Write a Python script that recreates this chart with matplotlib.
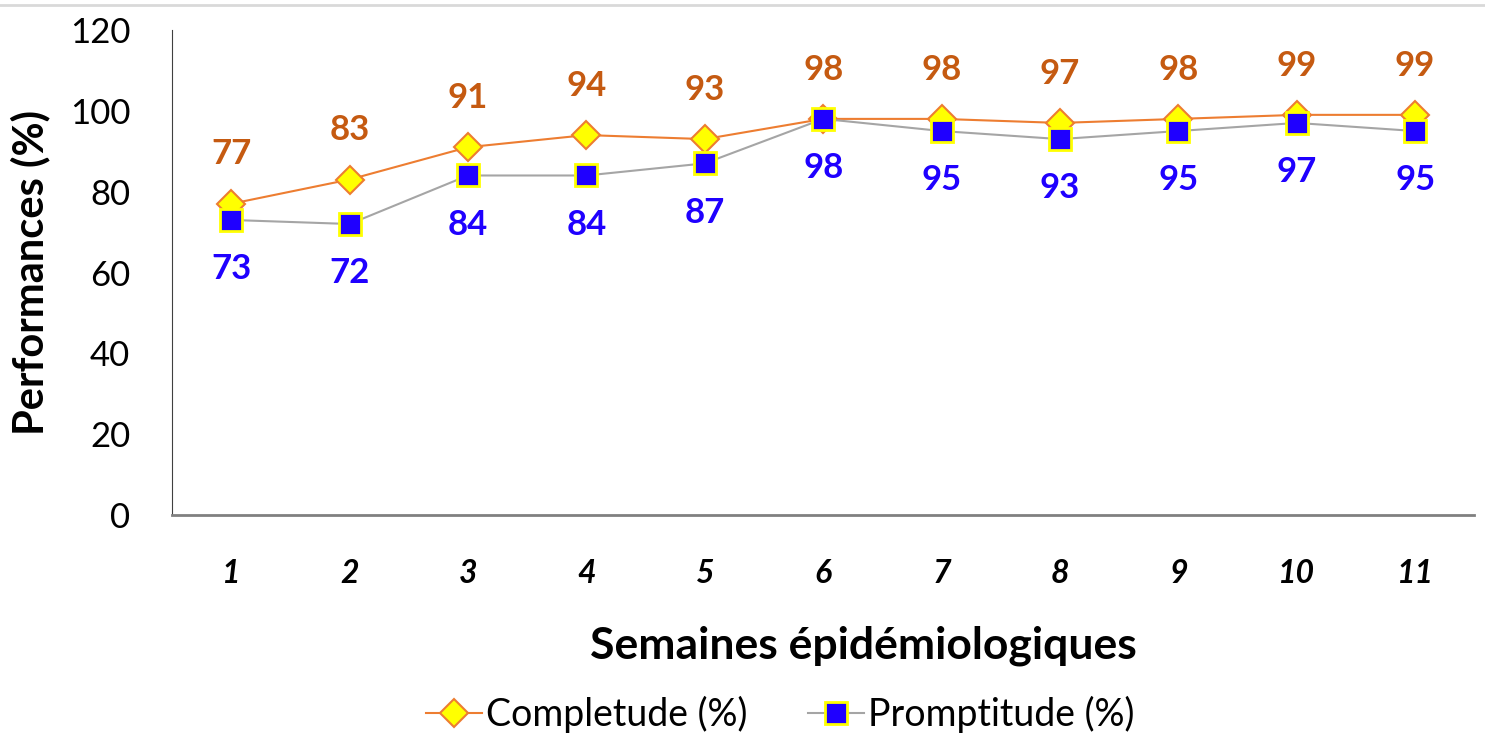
import matplotlib.pyplot as plt
from matplotlib.lines import Line2D

semaines = [1, 2, 3, 4, 5, 6, 7, 8, 9, 10, 11]
completude = [77, 83, 91, 94, 93, 98, 98, 97, 98, 99, 99]
promptitude = [73, 72, 84, 84, 87, 98, 95, 93, 95, 97, 95]
yticks = [0, 20, 40, 60, 80, 100, 120]

plt.rcParams['font.family'] = ['Lato', 'DejaVu Sans']

fig = plt.figure(figsize=(14.85, 7.4), dpi=100)
ax = fig.add_axes([0.1158, 0.304, 0.877, 0.6555])

ax.plot(semaines, completude, color='#ED7D31', lw=1.5, marker='D', ms=14,
        mfc='#FFFF00', mec='#ED7D31', mew=1.5, label='Completude (%)', zorder=3)
ax.plot(semaines, promptitude, color='#A5A5A5', lw=1.5, marker='s', ms=16,
        mfc='#1F00FF', mec='#FFFF00', mew=2, label='Promptitude (%)', zorder=4)

for x, c, p in zip(semaines, completude, promptitude):
    ax.annotate(str(c), (x, c), xytext=(0, 24), textcoords='offset points',
                ha='center', va='bottom', color='#C55A11', fontsize=25, fontweight='bold')
    ax.annotate(str(p), (x, p), xytext=(0, -24), textcoords='offset points',
                ha='center', va='top', color='#1F00FF', fontsize=25, fontweight='bold')

ax.set_xlim(0.5, 11.5)
ax.set_ylim(0, 120)
ax.set_yticks(yticks)
ax.set_xticks(semaines)
ax.set_xticklabels([str(s) for s in semaines], fontsize=23, fontweight='bold', fontstyle='italic')
ax.tick_params(axis='y', labelsize=25, length=0, pad=30)
ax.tick_params(axis='x', length=0, pad=32)

for s in ['top', 'right']:
    ax.spines[s].set_visible(False)
ax.spines['left'].set_color('#404040')
ax.spines['bottom'].set_color('#808080')
ax.spines['bottom'].set_linewidth(2)

ax.set_ylabel('Performances (%)', fontsize=30, fontweight='bold', labelpad=14)
ax.set_xlabel('Semaines épidémiologiques', fontsize=32, fontweight='bold')
ax.xaxis.set_label_coords(0.531, -0.228)

ax.legend(loc='center', bbox_to_anchor=(0.467, -0.412), ncol=2, frameon=False,
          fontsize=27, handlelength=1.5, handletextpad=0.1, columnspacing=1.6)

fig.add_artist(Line2D([0, 1], [1 - 5 / 740, 1 - 5 / 740], color='#D9D9D9', lw=2))

fig.savefig('out.png', dpi=100)
